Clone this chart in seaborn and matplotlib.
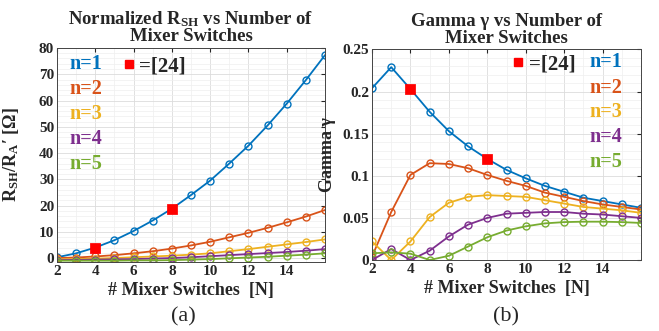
import numpy as np
import pandas as pd
import seaborn as sns
import matplotlib.pyplot as plt
from matplotlib.lines import Line2D
from matplotlib.ticker import MultipleLocator, FixedLocator

# Data
N = list(range(2, 17))

rsh_n1 = [0.3, 1.8, 4.0, 6.8, 10.3, 14.3, 18.8, 24.0, 29.5, 36.0, 42.8, 50.5, 58.8, 67.8, 77.3]
rsh_n2 = [0.0, 0.2, 0.6, 1.1, 1.8, 2.6, 3.6, 4.8, 6.2, 7.9, 9.6, 11.5, 13.6, 15.8, 18.3]
rsh_n3 = [-0.5, -0.4, -0.2, 0.0, 0.3, 0.6, 0.9, 1.3, 1.8, 2.6, 3.4, 4.3, 5.2, 6.1, 7.1]
rsh_n4 = [-0.8, -0.7, -0.6, -0.5, -0.4, -0.2, 0.0, 0.3, 0.7, 1.1, 1.5, 1.9, 2.3, 2.8, 3.4]
rsh_n5 = [-1.0, -1.0, -1.0, -1.0, -0.9, -0.9, -0.8, -0.6, -0.4, -0.1, 0.2, 0.5, 0.9, 1.3, 1.8]

gam_n1 = [0.204, 0.229, 0.203, 0.176, 0.153, 0.135, 0.120, 0.107, 0.097, 0.088, 0.081, 0.074, 0.070, 0.066, 0.062]
gam_n2 = [0.004, 0.057, 0.101, 0.115, 0.114, 0.109, 0.101, 0.094, 0.088, 0.080, 0.075, 0.070, 0.066, 0.063, 0.060]
gam_n3 = [0.022, 0.000, 0.022, 0.051, 0.068, 0.075, 0.077, 0.076, 0.075, 0.071, 0.067, 0.063, 0.061, 0.059, 0.056]
gam_n4 = [0.000, 0.013, 0.000, 0.011, 0.028, 0.042, 0.050, 0.055, 0.056, 0.057, 0.057, 0.055, 0.054, 0.052, 0.050]
gam_n5 = [0.008, 0.009, 0.0075, 0.000, 0.005, 0.016, 0.027, 0.035, 0.040, 0.0435, 0.045, 0.0455, 0.0455, 0.045, 0.044]

ref_N = [4, 8]
ref_rsh = [4.0, 18.8]
ref_gam = [0.203, 0.120]

labels = ['n=1', 'n=2', 'n=3', 'n=4', 'n=5']
colors = ['#0072BD', '#D95319', '#EDB120', '#7E2F8E', '#77AC30']

sns.set_style('white')
plt.rcParams['font.family'] = ['Liberation Serif', 'DejaVu Serif']
plt.rcParams['font.weight'] = 'bold'
plt.rcParams['mathtext.fontset'] = 'custom'
plt.rcParams['mathtext.rm'] = 'Liberation Serif:bold'
plt.rcParams['mathtext.it'] = 'Liberation Serif:bold:italic'
plt.rcParams['mathtext.bf'] = 'Liberation Serif:bold'

fig = plt.figure(figsize=(6.59, 3.31), dpi=100)
ax1 = fig.add_axes([0.0865, 0.2085, 0.4067, 0.6465])
ax2 = fig.add_axes([0.5645, 0.2145, 0.4082, 0.636])


def draw(ax, series, ref_y):
    for vals, c in zip(series, colors):
        sns.lineplot(x=N, y=vals, color=c, marker='o', mfc='none', mec=c,
                     mew=1.0, ms=5, lw=1.3, ax=ax)
    sns.scatterplot(x=ref_N, y=ref_y, marker='s', color='red', s=45,
                    edgecolor='red', zorder=5, ax=ax)
    ax.set_xlim(2, 16)
    ax.xaxis.set_major_locator(FixedLocator([2, 4, 6, 8, 10, 12, 14]))
    ax.xaxis.set_minor_locator(MultipleLocator(1))
    ax.grid(True, which='major', color='#dcdcdc', lw=0.6)
    ax.grid(True, which='minor', color='#efefef', lw=0.5)
    ax.set_axisbelow(True)
    ax.tick_params(direction='in', labelsize=11, length=3, pad=2, top=True, right=True)
    ax.tick_params(which='minor', length=0)
    for s in ax.spines.values():
        s.set_color('#444444')
        s.set_linewidth(0.7)
    for t in ax.get_xticklabels() + ax.get_yticklabels():
        t.set_fontweight('bold')
    ax.set_xlabel('# Mixer Switches  [N]', fontsize=13, fontweight='bold', labelpad=3)


draw(ax1, [rsh_n1, rsh_n2, rsh_n3, rsh_n4, rsh_n5], ref_rsh)
ax1.set_ylim(-1.5, 80)
ax1.yaxis.set_major_locator(FixedLocator(list(range(0, 81, 10))))
ax1.yaxis.set_minor_locator(MultipleLocator(2))
ax1.set_yticklabels([str(v) for v in range(0, 81, 10)], fontweight='bold')
ax1.set_ylabel("R$_{\\mathrm{SH}}$/R$_{\\mathrm{A}}$\u2032 [\u03a9]", fontsize=13,
               fontweight='bold')
ax1.yaxis.set_label_coords(-0.135, 0.5)
ax1.set_title("Normalized R$_{\\mathrm{SH}}$ vs Number of\nMixer Switches",
              fontsize=13.5, fontweight='bold', pad=5, linespacing=0.95)

draw(ax2, [gam_n1, gam_n2, gam_n3, gam_n4, gam_n5], ref_gam)
ax2.set_ylim(0, 0.25)
gticks = [0, 0.05, 0.1, 0.15, 0.2, 0.25]
ax2.yaxis.set_major_locator(FixedLocator(gticks))
ax2.yaxis.set_minor_locator(MultipleLocator(0.01))
ax2.set_yticklabels(['0', '0.05', '0.1', '0.15', '0.2', '0.25'], fontweight='bold')
ax2.set_ylabel('Gamma \u03b3', fontsize=13, fontweight='bold')
ax2.yaxis.set_label_coords(-0.135, 0.5)
ax2.set_title('Gamma \u03b3 vs Number of\nMixer Switches',
              fontsize=13.5, fontweight='bold', pad=5, linespacing=0.95)

# colored "legend" labels
left_y = [0.925, 0.807, 0.692, 0.575, 0.458]
right_y = [0.941, 0.817, 0.703, 0.584, 0.466]
for lab, c, y1, y2 in zip(labels, colors, left_y, right_y):
    ax1.text(0.045, y1, lab, color=c, fontsize=14.5, fontweight='bold',
             transform=ax1.transAxes, va='center', ha='left')
    ax2.text(0.81, y2, lab, color=c, fontsize=14.5, fontweight='bold',
             transform=ax2.transAxes, va='center', ha='left')

ref_handle = [Line2D([], [], marker='s', color='red', ls='none', ms=6)]
ax1.legend(ref_handle, ['=[24]'], loc='center left', bbox_to_anchor=(0.213, 0.915),
           frameon=False, handlelength=0.6, handletextpad=0.2,
           prop={'size': 15, 'weight': 'bold'}, borderaxespad=0)
ax2.legend(ref_handle, ['=[24]'], loc='center left', bbox_to_anchor=(0.49, 0.93),
           frameon=False, handlelength=0.6, handletextpad=0.2,
           prop={'size': 15, 'weight': 'bold'}, borderaxespad=0)

fig.text(0.278, 0.042, '(a)', fontsize=16, fontweight='normal', ha='center', va='center')
fig.text(0.768, 0.042, '(b)', fontsize=16, fontweight='normal', ha='center', va='center')

fig.savefig('out.png', dpi=100)
